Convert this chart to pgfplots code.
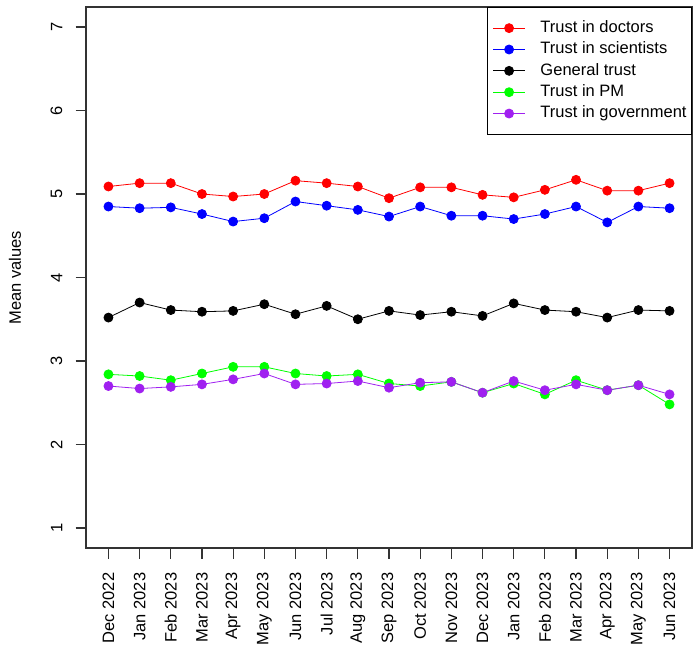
\documentclass[border=0pt]{standalone}
\usepackage{pgfplots}
\pgfplotsset{compat=1.18}
\usepackage{pgfplotstable}
\usepackage{fontspec}
\setmainfont{Liberation Sans}
\definecolor{rred}{HTML}{FF0000}
\definecolor{rblue}{HTML}{0000FF}
\definecolor{rgreen}{HTML}{00FF00}
\definecolor{rpurple}{HTML}{A020F0}
\definecolor{axgray}{HTML}{333333}
\pgfplotstableread{
idx doctors scientists general pm government
1  5.09 4.85 3.52 2.84 2.70
2  5.13 4.83 3.70 2.82 2.67
3  5.13 4.84 3.61 2.77 2.69
4  5.00 4.76 3.59 2.85 2.72
5  4.97 4.67 3.60 2.93 2.78
6  5.00 4.71 3.68 2.93 2.85
7  5.16 4.91 3.56 2.85 2.72
8  5.13 4.86 3.66 2.82 2.73
9  5.09 4.81 3.50 2.84 2.76
10 4.95 4.73 3.60 2.73 2.68
11 5.08 4.85 3.55 2.70 2.74
12 5.08 4.74 3.59 2.75 2.75
13 4.99 4.74 3.54 2.62 2.62
14 4.96 4.70 3.69 2.73 2.76
15 5.05 4.76 3.61 2.60 2.65
16 5.17 4.85 3.59 2.77 2.72
17 5.04 4.66 3.52 2.65 2.65
18 5.04 4.85 3.61 2.71 2.71
19 5.13 4.83 3.60 2.48 2.60
}\datatable
\begin{document}
\fontsize{16.5}{19.8}\selectfont
\begin{tikzpicture}
\begin{axis}[
  at={(0pt,0pt)}, anchor=south west,
  scale only axis, width=606pt, height=541pt,
  xmin=0.28, xmax=19.72, ymin=0.76, ymax=7.24,
  xtick={1,...,19},
  xticklabels={Dec 2022,Jan 2023,Feb 2023,Mar 2023,Apr 2023,May 2023,Jun 2023,Jul 2023,Aug 2023,Sep 2023,Oct 2023,Nov 2023,Dec 2023,Jan 2023,Feb 2023,Mar 2023,Apr 2023,May 2023,Jun 2023},
  ytick={1,...,7},
  tick align=outside, tick pos=left,
  major tick length=10.5pt,
  axis line style={line width=1.2pt, color=axgray},
  every tick/.style={line width=1.2pt, color=axgray},
  /pgf/number format/assume math mode=true,
  ticklabel style={font=\fontsize{16.5}{19.8}\selectfont, inner sep=0pt},
  xticklabel style={rotate=90, anchor=east},
  xticklabel shift=14pt,
  yticklabel style={rotate=90, anchor=south},
  yticklabel shift=13pt,
  ylabel={Mean values},
  ylabel style={at={(axis description cs:-0.1172,0.5)}, anchor=center, font=\fontsize{16.5}{19.8}\selectfont},
  legend style={at={(1,1)}, anchor=north east, draw=black, line width=0.8pt, fill=white,
    inner xsep=5pt, inner ysep=13pt, row sep=5.85pt, column sep=15pt,
    font=\fontsize{16.5}{19.8}\selectfont,
    nodes={inner sep=0pt, text height=12pt, text depth=3.5pt},
    cells={anchor=west}},
  legend image code/.code={\draw[mark repeat=2,mark phase=2,#1] plot coordinates {(0pt,0pt) (16pt,0pt) (32pt,0pt)};},
  every axis plot/.append style={line width=0.8pt, mark=*, mark size=4.5pt},
]
\addplot[color=rred, mark options={fill=rred, draw=rred}] table[x=idx, y=doctors] {\datatable};
\addlegendentry{Trust in doctors}
\addplot[color=rblue, mark options={fill=rblue, draw=rblue}] table[x=idx, y=scientists] {\datatable};
\addlegendentry{Trust in scientists}
\addplot[color=black, mark options={fill=black, draw=black}] table[x=idx, y=general] {\datatable};
\addlegendentry{General trust}
\addplot[color=rgreen, mark options={fill=rgreen, draw=rgreen}] table[x=idx, y=pm] {\datatable};
\addlegendentry{Trust in PM}
\addplot[color=rpurple, mark options={fill=rpurple, draw=rpurple}] table[x=idx, y=government] {\datatable};
\addlegendentry{Trust in government}
\end{axis}
\pgfresetboundingbox
\path (-86pt,-104pt) rectangle (614pt,548pt);
\end{tikzpicture}
\end{document}
